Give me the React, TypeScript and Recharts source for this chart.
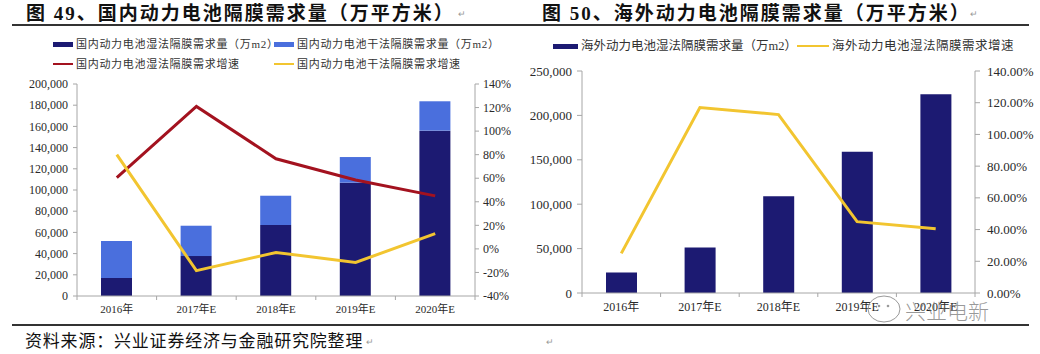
import React from 'react';
import { ComposedChart, Bar, Line, XAxis, YAxis } from 'recharts';

// ---------- data ----------
const years = ['2016年', '2017年E', '2018年E', '2019年E', '2020年E'];

const domesticWet = [17000, 37700, 67000, 106900, 156000];
const domesticDry = [34900, 28600, 27600, 24200, 27700];
const domesticWetGrowth = [60.5, 121, 76.5, 58.5, 45];
const domesticDryGrowth = [80, -18.5, -3, -11.5, 13];

const overseasWet = [23100, 51200, 108900, 159000, 223800];
const overseasWetGrowth = [25, 117, 112.5, 45, 40.5];

const domesticLeftTicks = [0, 20000, 40000, 60000, 80000, 100000, 120000, 140000, 160000, 180000, 200000];
const domesticRightTicks = [-40, -20, 0, 20, 40, 60, 80, 100, 120, 140];
const overseasLeftTicks = [0, 50000, 100000, 150000, 200000, 250000];
const overseasRightTicks = [0, 20, 40, 60, 80, 100, 120, 140];

const title49 = '图 49、国内动力电池隔膜需求量（万平方米）';
const title50 = '图 50、海外动力电池隔膜需求量（万平方米）';
const sourceText = '资料来源：兴业证券经济与金融研究院整理';
const domesticNames = [
  '国内动力电池湿法隔膜需求量（万m2）',
  '国内动力电池干法隔膜需求量（万m2）',
  '国内动力电池湿法隔膜需求增速',
  '国内动力电池干法隔膜需求增速',
];
const overseasNames = ['海外动力电池湿法隔膜需求量（万m2）', '海外动力电池湿法隔膜需求增速'];
const watermark = '兴业电新';

// ---------- styles ----------
const NAVY = '#1C1A72';
const ROYAL = '#4A6FDD';
const RED = '#A3121F';
const YELLOW = '#F2C530';
const AXIS = '#A6A6A6';
const TXT = '#2A2A2A';
const SERIF = '"Liberation Serif", "Times New Roman", "Noto Sans CJK SC", serif';
const CJK = '"Liberation Serif", "Noto Sans CJK SC", serif';

const domesticData = years.map((y, i) => ({
  year: y,
  wet: domesticWet[i],
  dry: domesticDry[i],
  wetG: domesticWetGrowth[i],
  dryG: domesticDryGrowth[i],
}));
const overseasData = years.map((y, i) => ({
  year: y,
  wet: overseasWet[i],
  wetG: overseasWetGrowth[i],
}));

const fmtThousands = (v: number) => v.toLocaleString('en-US');

const makeCatTick = (fontSize: number) => (props: any) => {
  const { x, y, payload, index, visibleTicksCount } = props;
  const half = typeof payload?.offset === 'number' ? payload.offset : 0;
  const axisY = y - 8;
  return (
    <g>
      <text x={x} y={y} dy="0.85em" textAnchor="middle" fontSize={fontSize} fill={TXT} fontFamily={CJK}>
        {payload.value}
      </text>
      {half > 0 && <line x1={x - half} x2={x - half} y1={axisY} y2={axisY + 4} stroke={AXIS} />}
      {half > 0 && index === visibleTicksCount - 1 && (
        <line x1={x + half} x2={x + half} y1={axisY} y2={axisY + 4} stroke={AXIS} />
      )}
    </g>
  );
};

const abs = (left: number, top: number, extra: React.CSSProperties = {}): React.CSSProperties => ({
  position: 'absolute',
  left,
  top,
  whiteSpace: 'nowrap',
  ...extra,
});

const Swatch = ({ color, h, w }: { color: string; h: number; w: number }) => (
  <span style={{ display: 'inline-block', width: w, height: h, background: color, verticalAlign: 'middle', marginRight: 3 }} />
);

const legendText: React.CSSProperties = { color: '#333', fontFamily: CJK, verticalAlign: 'middle' };
const leftLegend: React.CSSProperties = { fontSize: 11, lineHeight: '14px', letterSpacing: 0.7 };

export default function App() {
  return (
    <div
      style={{
        position: 'absolute',
        left: 0,
        top: 0,
        width: 1040,
        height: 354,
        overflow: 'hidden',
        background: '#fff',
        fontFamily: CJK,
      }}
    >
      {/* titles */}
      <div style={abs(26, 2, { fontSize: 19, fontWeight: 'bold', color: '#111', lineHeight: '24px', letterSpacing: 2 })}>{title49}</div>
      <div style={abs(542, 2, { fontSize: 19, fontWeight: 'bold', color: '#111', lineHeight: '24px', letterSpacing: 2 })}>{title50}</div>
      <div style={abs(12, 24, { width: 1017, height: 2, background: '#333' })} />
      <div style={abs(12, 324, { width: 1017, height: 2, background: '#333' })} />
      <div style={abs(25, 332, { fontSize: 17, color: '#111', lineHeight: '20px', letterSpacing: 0.8 })}>{sourceText}</div>
      <div style={abs(458, 9, { fontSize: 9, color: '#999' })}>↵</div>
      <div style={abs(970, 9, { fontSize: 9, color: '#999' })}>↵</div>
      <div style={abs(366, 337, { fontSize: 9, color: '#999' })}>↵</div>
      <div style={abs(546, 337, { fontSize: 9, color: '#999' })}>↵</div>

      {/* left legend */}
      <div style={abs(53, 36, leftLegend)}>
        <Swatch color={NAVY} w={20} h={5} />
        <span style={legendText}>{domesticNames[0]}</span>
      </div>
      <div style={abs(274, 36, leftLegend)}>
        <Swatch color={ROYAL} w={20} h={5} />
        <span style={legendText}>{domesticNames[1]}</span>
      </div>
      <div style={abs(53, 56, leftLegend)}>
        <Swatch color={RED} w={20} h={2} />
        <span style={legendText}>{domesticNames[2]}</span>
      </div>
      <div style={abs(274, 56, leftLegend)}>
        <Swatch color={YELLOW} w={20} h={2} />
        <span style={legendText}>{domesticNames[3]}</span>
      </div>

      {/* right legend */}
      <div style={abs(553, 38, { fontSize: 12.5, lineHeight: '15px' })}>
        <Swatch color={NAVY} w={25} h={5} />
        <span style={legendText}>{overseasNames[0]}</span>
      </div>
      <div style={abs(797, 38, { fontSize: 12.5, lineHeight: '15px', letterSpacing: 0.5 })}>
        <Swatch color={YELLOW} w={32} h={2} />
        <span style={legendText}>{overseasNames[1]}</span>
      </div>

      {/* left chart */}
      <div style={abs(0, 0)}>
        <ComposedChart width={520} height={354} data={domesticData} margin={{ top: 84, right: 0, bottom: 38, left: 17 }}>
          <XAxis
            dataKey="year"
            height={20}
            tickLine={false}
            tickSize={0}
            tickMargin={8}
            axisLine={{ stroke: AXIS }}
            tick={makeCatTick(11)}
            interval={0}
          />
          <YAxis
            yAxisId="left"
            width={60}
            domain={[0, 200000]}
            ticks={domesticLeftTicks}
            tickFormatter={fmtThousands}
            axisLine={{ stroke: AXIS }}
            tickLine={{ stroke: AXIS }}
            tickSize={4}
            tickMargin={5}
            tick={{ fontSize: 12, fill: TXT, fontFamily: SERIF }}
            interval={0}
          />
          <YAxis
            yAxisId="right"
            orientation="right"
            width={45}
            domain={[-40, 140]}
            ticks={domesticRightTicks}
            tickFormatter={(v: number) => `${v}%`}
            axisLine={{ stroke: AXIS }}
            tickLine={{ stroke: AXIS }}
            tickSize={4}
            tickMargin={4}
            tick={{ fontSize: 12, fill: TXT, fontFamily: SERIF, textAnchor: 'start' }}
            interval={0}
          />
          <Bar yAxisId="left" dataKey="wet" stackId="a" fill={NAVY} barSize={31} isAnimationActive={false} />
          <Bar yAxisId="left" dataKey="dry" stackId="a" fill={ROYAL} barSize={31} isAnimationActive={false} />
          <Line yAxisId="right" dataKey="wetG" stroke={RED} strokeWidth={3} dot={false} type="linear" isAnimationActive={false} />
          <Line yAxisId="right" dataKey="dryG" stroke={YELLOW} strokeWidth={3} dot={false} type="linear" isAnimationActive={false} />
        </ComposedChart>
      </div>

      {/* right chart */}
      <div style={abs(520, 0)}>
        <ComposedChart width={520} height={354} data={overseasData} margin={{ top: 71, right: 0, bottom: 41, left: 2 }}>
          <XAxis
            dataKey="year"
            height={20}
            tickLine={false}
            tickSize={0}
            tickMargin={8}
            axisLine={{ stroke: AXIS }}
            tick={makeCatTick(12)}
            interval={0}
          />
          <YAxis
            yAxisId="left"
            width={60}
            domain={[0, 250000]}
            ticks={overseasLeftTicks}
            tickFormatter={fmtThousands}
            axisLine={{ stroke: AXIS }}
            tickLine={{ stroke: AXIS }}
            tickSize={5}
            tickMargin={5}
            tick={{ fontSize: 13, fill: TXT, fontFamily: SERIF }}
            interval={0}
          />
          <YAxis
            yAxisId="right"
            orientation="right"
            width={65}
            domain={[0, 140]}
            ticks={overseasRightTicks}
            tickFormatter={(v: number) => `${v.toFixed(2)}%`}
            axisLine={{ stroke: AXIS }}
            tickLine={{ stroke: AXIS }}
            tickSize={5}
            tickMargin={7}
            tick={{ fontSize: 13, fill: TXT, fontFamily: SERIF, textAnchor: 'start' }}
            interval={0}
          />
          <Bar yAxisId="left" dataKey="wet" fill={NAVY} barSize={31} isAnimationActive={false} />
          <Line yAxisId="right" dataKey="wetG" stroke={YELLOW} strokeWidth={3} dot={false} type="linear" isAnimationActive={false} />
        </ComposedChart>
      </div>

      {/* watermark */}
      <svg style={abs(860, 292)} width={180} height={34}>
        <ellipse cx={24} cy={17} rx={16} ry={13} fill="none" stroke="#9a9a9a" strokeWidth={1} />
        <circle cx={19} cy={14} r={1.3} fill="#9a9a9a" />
        <circle cx={28} cy={14} r={1.3} fill="#9a9a9a" />
      </svg>
      <div style={abs(905, 299, { fontSize: 21, color: 'rgba(120,120,120,0.75)', fontFamily: '"Noto Sans CJK SC", sans-serif', fontWeight: 300, lineHeight: '22px' })}>
        {watermark}
      </div>
    </div>
  );
}
